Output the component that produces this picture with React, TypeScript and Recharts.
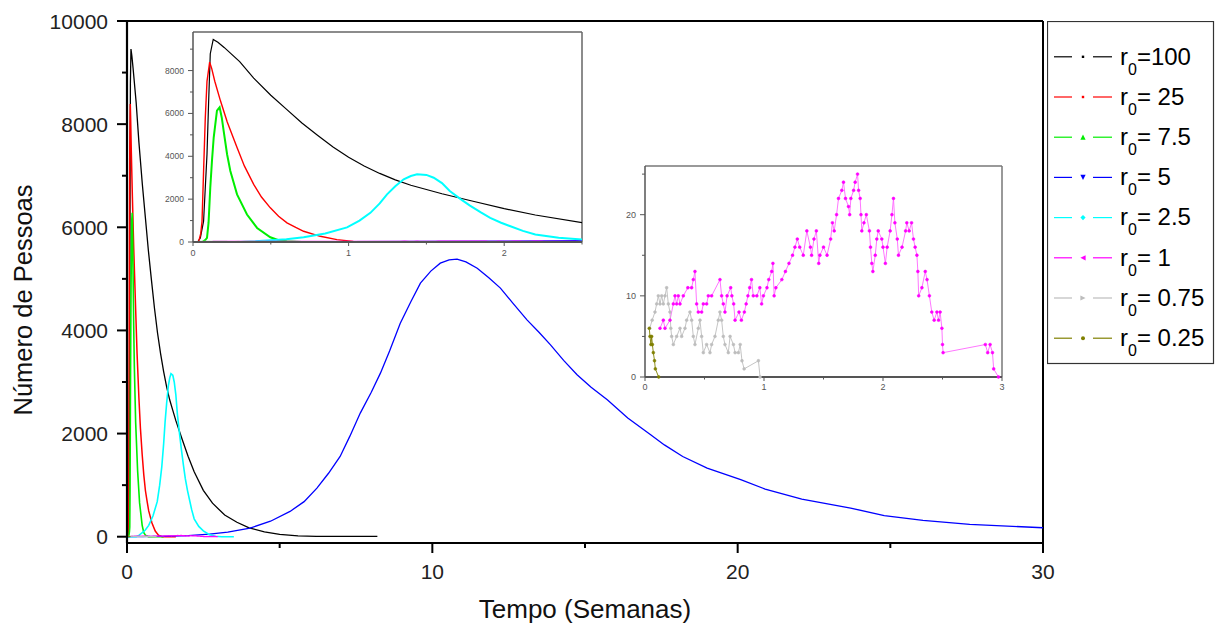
import React from 'react'
import { LineChart, Line, XAxis, YAxis, Legend, ReferenceLine } from 'recharts'

type Pt = [number, number]

// [tempo (semanas), número de pessoas]
const r100: Pt[] = [
  [0, 0], [0.03, 0], [0.047, 190], [0.068, 970], [0.09, 4100], [0.1, 6440], [0.111, 8785], [0.13, 9455],
  [0.16, 9320], [0.2, 9080], [0.3, 8420], [0.39, 7650], [0.5, 6850], [0.6, 6200], [0.7, 5550],
  [0.8, 4980], [0.9, 4430], [1.0, 3950], [1.1, 3550], [1.2, 3200], [1.3, 2900], [1.4, 2650],
  [1.5, 2450], [1.6, 2250], [1.8, 1900], [2.0, 1560], [2.2, 1260], [2.5, 900], [2.8, 650],
  [3.2, 420], [3.6, 280], [4.0, 170], [4.5, 95], [5.0, 45], [5.6, 15], [6.2, 5], [8.2, 5],
]
const r25: Pt[] = [
  [0, 0], [0.036, 0], [0.05, 400], [0.058, 970], [0.068, 3300], [0.079, 5800], [0.09, 7500],
  [0.107, 8390], [0.12, 8100], [0.14, 7500], [0.176, 6600], [0.22, 5600], [0.283, 4410],
  [0.33, 3550], [0.39, 2690], [0.44, 2100], [0.497, 1594], [0.55, 1200], [0.604, 891], [0.66, 680],
  [0.711, 500], [0.818, 266], [0.925, 110], [1.03, 30], [1.15, 0], [1.6, 0],
]
const r7_5: Pt[] = [
  [0, 0], [0.06, 0], [0.08, 100], [0.09, 188], [0.1, 900], [0.111, 2530], [0.122, 3800],
  [0.133, 4875], [0.154, 6127], [0.171, 6282], [0.185, 5800], [0.197, 5190], [0.219, 4096],
  [0.24, 3314], [0.283, 2222], [0.347, 1284], [0.412, 656], [0.497, 220], [0.55, 80], [0.604, 30],
  [0.7, 0], [1.2, 0],
]
const r5: Pt[] = [
  [0, 0], [0.5, 0], [1, 5], [1.5, 10], [2, 20], [2.7, 50], [3.3, 90], [4.03, 168], [4.7, 300],
  [5.34, 490], [5.8, 680], [6.22, 943], [6.6, 1230], [6.98, 1556], [7.3, 1950], [7.64, 2397],
  [8.0, 2800], [8.3, 3172], [8.6, 3600], [8.95, 4141], [9.3, 4560], [9.61, 4917], [9.95, 5150],
  [10.26, 5304], [10.55, 5370], [10.81, 5382], [11.1, 5330], [11.47, 5207], [11.85, 5020],
  [12.23, 4820], [12.65, 4520], [13.1, 4205], [13.5, 3960], [13.87, 3721], [14.3, 3420],
  [14.74, 3140], [15.2, 2900], [15.73, 2655], [16.4, 2300], [17.15, 1977], [17.6, 1780],
  [18.2, 1556], [19.0, 1330], [20.1, 1105], [20.9, 924], [22.1, 730], [23.7, 556], [24.8, 407],
  [26.07, 316], [27.6, 238], [30, 174],
]
const r2_5: Pt[] = [
  [0, 0], [0.3, 0], [0.4, 30], [0.5, 80], [0.6, 130], [0.711, 220], [0.85, 400], [0.99, 680],
  [1.07, 1000], [1.14, 1360], [1.2, 1800], [1.247, 2222], [1.3, 2600], [1.354, 2925], [1.4, 3080],
  [1.44, 3160], [1.5, 3130], [1.547, 3000], [1.6, 2750], [1.65, 2377], [1.72, 2000], [1.78, 1700],
  [1.85, 1380], [1.91, 1125], [1.98, 900], [2.04, 736], [2.12, 520], [2.2, 347], [2.35, 200],
  [2.5, 112], [2.7, 40], [2.9, 10], [3.1, 0], [3.5, 0],
]
const r1: Pt[] = [
  [0.126, 6], [0.154, 7], [0.168, 6], [0.21, 7], [0.238, 9], [0.252, 10], [0.266, 9], [0.28, 10],
  [0.294, 9], [0.322, 10], [0.36, 11], [0.392, 11], [0.406, 12], [0.42, 13], [0.434, 9], [0.448, 8],
  [0.476, 8], [0.49, 9], [0.518, 9], [0.532, 10], [0.56, 10], [0.63, 12], [0.644, 10], [0.658, 9],
  [0.672, 8], [0.69, 10], [0.72, 11], [0.73, 10], [0.745, 9], [0.757, 7], [0.79, 8], [0.81, 7],
  [0.835, 8], [0.85, 9], [0.865, 10], [0.88, 11], [0.895, 12], [0.91, 10], [0.94, 10], [0.965, 11],
  [0.98, 9], [0.995, 10], [1.025, 11], [1.04, 12], [1.065, 13], [1.075, 14], [1.085, 10], [1.1, 11],
  [1.15, 12], [1.18, 13], [1.21, 14], [1.24, 15], [1.26, 16], [1.28, 17], [1.3, 16], [1.33, 15],
  [1.36, 18], [1.39, 16], [1.4, 15], [1.42, 17], [1.44, 18], [1.46, 14], [1.47, 15], [1.5, 16],
  [1.53, 15], [1.56, 17], [1.575, 19], [1.59, 18], [1.61, 20], [1.626, 22], [1.654, 23], [1.668, 24],
  [1.685, 22], [1.71, 21], [1.72, 20], [1.73, 22], [1.753, 23], [1.766, 24], [1.786, 25], [1.795, 23],
  [1.808, 22], [1.815, 20], [1.822, 18], [1.84, 19], [1.86, 20], [1.886, 18], [1.895, 16], [1.906, 14],
  [1.915, 13], [1.935, 15], [1.948, 17], [1.96, 18], [1.99, 17], [2.0, 16], [2.02, 14], [2.035, 16],
  [2.06, 18], [2.075, 20], [2.088, 22], [2.1, 19], [2.12, 17], [2.13, 15], [2.16, 16], [2.19, 18],
  [2.2, 19], [2.22, 18], [2.24, 19], [2.256, 17], [2.27, 16], [2.285, 15], [2.293, 13], [2.3, 10],
  [2.327, 11], [2.355, 13], [2.37, 12], [2.39, 10], [2.41, 8], [2.43, 7], [2.453, 8], [2.467, 7],
  [2.48, 8], [2.495, 6], [2.5, 4], [2.505, 3], [2.86, 4], [2.88, 3], [2.9, 4], [2.92, 3], [2.93, 1],
  [2.97, 0],
]
const r0_75: Pt[] = [
  [0.04, 6], [0.06, 7], [0.084, 8], [0.098, 9], [0.112, 10], [0.126, 9], [0.14, 10], [0.154, 9],
  [0.168, 10], [0.182, 11], [0.196, 9], [0.21, 8], [0.217, 6], [0.224, 5], [0.238, 4], [0.266, 5],
  [0.294, 6], [0.308, 5], [0.336, 6], [0.35, 7], [0.378, 8], [0.392, 7], [0.406, 5], [0.42, 4],
  [0.448, 6], [0.462, 7], [0.476, 5], [0.49, 3], [0.518, 4], [0.546, 3], [0.56, 4], [0.588, 5],
  [0.616, 7], [0.63, 8], [0.644, 7], [0.658, 5], [0.672, 4], [0.7, 3], [0.715, 5], [0.743, 4],
  [0.757, 3], [0.785, 3], [0.8, 4], [0.815, 2], [0.833, 1], [0.953, 2], [0.967, 0],
]
const r0_25: Pt[] = [
  [0.036, 6], [0.042, 5], [0.05, 4], [0.056, 5], [0.062, 4], [0.07, 3], [0.08, 2], [0.087, 1], [0.115, 0],
]

const mainXTicks = [0, 5, 10, 15, 20, 25, 30]
const mainXLabels = [0, 10, 20, 30]
const mainYTicks = [0, 1000, 2000, 3000, 4000, 5000, 6000, 7000, 8000, 9000, 10000]
const mainYLabels = [0, 2000, 4000, 6000, 8000, 10000]
const in1XTicks = [0, 0.5, 1, 1.5, 2, 2.5]
const in1XLabels = [0, 1, 2]
const in1YTicks = [0, 1000, 2000, 3000, 4000, 5000, 6000, 7000, 8000, 9000]
const in1YLabels = [0, 2000, 4000, 6000, 8000]
const in2XTicks = [0, 0.5, 1, 1.5, 2, 2.5, 3]
const in2XLabels = [0, 1, 2, 3]
const in2YTicks = [0, 5, 10, 15, 20, 25]
const in2YLabels = [0, 10, 20]

const rows = (pts: Pt[]) => pts.map(([t, v]) => ({ t, v }))

const series = [
  { id: 'r100', label: '=100', color: '#000000', pts: r100, w: 1.3, mk: 'sq' },
  { id: 'r25', label: '= 25', color: '#ff0000', pts: r25, w: 1.5, mk: 'sq' },
  { id: 'r7_5', label: '= 7.5', color: '#00ee00', pts: r7_5, w: 1.6, mk: 'up' },
  { id: 'r5', label: '= 5', color: '#0000ff', pts: r5, w: 1.3, mk: 'down' },
  { id: 'r2_5', label: '= 2.5', color: '#00ffff', pts: r2_5, w: 1.6, mk: 'dia' },
  { id: 'r1', label: '= 1', color: '#ff00ff', pts: r1, w: 1.3, mk: 'left' },
  { id: 'r0_75', label: '= 0.75', color: '#bdbdbd', pts: r0_75, w: 1.2, mk: 'right' },
  { id: 'r0_25', label: '= 0.25', color: '#808000', pts: r0_25, w: 1.2, mk: 'dot' },
]

const FONT = '"Liberation Sans", Arial, sans-serif'

type TickCfg = {
  labels: number[]
  major: number
  minor: number
  gap: number
  size: number
  fill: string
  stroke: string
  sw: number
}

const xTick = (c: TickCfg) => (p: any) => {
  const v = p.payload.value
  const isMajor = c.labels.includes(v)
  return (
    <g>
      <line x1={p.x} x2={p.x} y1={p.y} y2={p.y + (isMajor ? c.major : c.minor)} stroke={c.stroke} strokeWidth={c.sw} />
      {isMajor && (
        <text x={p.x} y={p.y + c.gap} textAnchor="middle" fontSize={c.size} fill={c.fill} fontFamily={FONT}>
          {v}
        </text>
      )}
    </g>
  )
}

const yTick = (c: TickCfg) => (p: any) => {
  const v = p.payload.value
  const isMajor = c.labels.includes(v)
  return (
    <g>
      <line x1={p.x} x2={p.x - (isMajor ? c.major : c.minor)} y1={p.y} y2={p.y} stroke={c.stroke} strokeWidth={c.sw} />
      {isMajor && (
        <text x={p.x - c.gap} y={p.y} dy="0.36em" textAnchor="end" fontSize={c.size} fill={c.fill} fontFamily={FONT}>
          {v}
        </text>
      )}
    </g>
  )
}

const Marker = ({ kind, x, y, color }: { kind: string; x: number; y: number; color: string }) => {
  const s = 2.6
  if (kind === 'up') return <polygon points={`${x},${y - s} ${x - s},${y + s} ${x + s},${y + s}`} fill={color} />
  if (kind === 'down') return <polygon points={`${x},${y + s} ${x - s},${y - s} ${x + s},${y - s}`} fill={color} />
  if (kind === 'left') return <polygon points={`${x - s},${y} ${x + s},${y - s} ${x + s},${y + s}`} fill={color} />
  if (kind === 'right') return <polygon points={`${x + s},${y} ${x - s},${y - s} ${x - s},${y + s}`} fill={color} />
  if (kind === 'dia') return <polygon points={`${x},${y - s} ${x + s},${y} ${x},${y + s} ${x - s},${y}`} fill={color} />
  if (kind === 'dot') return <circle cx={x} cy={y} r={2} fill={color} />
  return <rect x={x - 1.2} y={y - 1.2} width={2.4} height={2.4} fill={color} />
}

const LegendBox = () => (
  <svg width={168} height={344} style={{ display: 'block' }}>
    <rect x={0.5} y={0.5} width={166} height={342} fill="#fff" stroke="#333" strokeWidth={1.2} />
    {series.map((s, i) => {
      const cy = 34.5 + i * 40.2
      return (
        <g key={s.id}>
          <line x1={7} x2={25} y1={cy + 1.3} y2={cy + 1.3} stroke={s.color} strokeWidth={1.2} />
          <Marker kind={s.mk} x={36} y={cy + 1.3} color={s.color} />
          <line x1={46} x2={65} y1={cy + 1.3} y2={cy + 1.3} stroke={s.color} strokeWidth={1.2} />
          <text x={73} y={cy + 9} fontSize={24} fill="#000" fontFamily={FONT} style={{ whiteSpace: 'pre' }}>
            r<tspan fontSize={16} dy={10}>0</tspan>
            <tspan dy={-10}>{s.label}</tspan>
          </text>
        </g>
      )
    })}
  </svg>
)

const YTitle = () => (
  <text x={32} y={300} transform="rotate(-90 32 300)" textAnchor="middle" fontSize={25.5} fill="#111" fontFamily={FONT}>
    Número de Pessoas
  </text>
)

const XTitle = () => (
  <text x={585} y={618} textAnchor="middle" fontSize={26} fill="#111" fontFamily={FONT}>
    Tempo (Semanas)
  </text>
)

const mainX: TickCfg = { labels: mainXLabels, major: 10, minor: 5, gap: 35.5, size: 21, fill: '#222', stroke: '#000', sw: 2 }
const mainY: TickCfg = { labels: mainYLabels, major: 10, minor: 5, gap: 19, size: 21, fill: '#222', stroke: '#000', sw: 2 }
const in1X: TickCfg = { labels: in1XLabels, major: 4, minor: 2.5, gap: 14, size: 9, fill: '#555', stroke: '#555', sw: 1 }
const in1Y: TickCfg = { labels: in1YLabels, major: 5, minor: 3, gap: 9, size: 8.5, fill: '#555', stroke: '#555', sw: 1 }
const in2X: TickCfg = { labels: in2XLabels, major: 4, minor: 2.5, gap: 13, size: 9, fill: '#555', stroke: '#555', sw: 1 }
const in2Y: TickCfg = { labels: in2YLabels, major: 5, minor: 3, gap: 9, size: 9, fill: '#555', stroke: '#555', sw: 1 }

export default function App() {
  const smallSeries = series.filter((s) => ['r1', 'r0_75', 'r0_25'].includes(s.id))
  return (
    <div style={{ position: 'absolute', left: 0, top: 0, width: 1215, height: 628, background: '#fff', fontFamily: FONT }}>
      <LineChart width={1215} height={628} margin={{ top: 21, right: 172, bottom: 55, left: 60 }}>
        <XAxis
          type="number"
          dataKey="t"
          domain={[0, 30]}
          ticks={mainXTicks}
          interval={0}
          height={30}
          tickSize={0}
          tickMargin={0}
          tickLine={false}
          axisLine={{ stroke: '#000', strokeWidth: 2.2 }}
          tick={xTick(mainX)}
          label={<XTitle />}
        />
        <YAxis
          type="number"
          dataKey="v"
          domain={[-122, 10000]}
          ticks={mainYTicks}
          interval={0}
          width={67}
          tickSize={0}
          tickMargin={0}
          tickLine={false}
          axisLine={{ stroke: '#000', strokeWidth: 2.2 }}
          tick={yTick(mainY)}
          label={<YTitle />}
        />
        <ReferenceLine y={10000} stroke="#000" strokeWidth={2} />
        <ReferenceLine x={30} stroke="#000" strokeWidth={2} />
        {series.map((s) => (
          <Line
            key={s.id}
            data={rows(s.pts)}
            dataKey="v"
            type="linear"
            stroke={s.color}
            strokeWidth={s.w}
            dot={false}
            isAnimationActive={false}
          />
        ))}
        <Legend
          layout="vertical"
          align="center"
          verticalAlign="middle"
          wrapperStyle={{ left: 1047, top: 21, width: 168, height: 344 }}
          content={() => <LegendBox />}
        />
      </LineChart>

      <div style={{ position: 'absolute', left: 150, top: 20 }}>
        <LineChart width={440} height={245} margin={{ top: 12, right: 8, bottom: 3, left: 0 }}>
          <XAxis
            type="number"
            dataKey="t"
            domain={[0, 2.5]}
            allowDataOverflow
            ticks={in1XTicks}
            interval={0}
            height={20}
            tickSize={0}
            tickMargin={0}
            tickLine={false}
            axisLine={{ stroke: '#555', strokeWidth: 2 }}
            tick={xTick(in1X)}
          />
          <YAxis
            type="number"
            dataKey="v"
            domain={[0, 9800]}
            allowDataOverflow
            ticks={in1YTicks}
            interval={0}
            width={43}
            tickSize={0}
            tickMargin={0}
            tickLine={false}
            axisLine={{ stroke: '#555', strokeWidth: 1.5 }}
            tick={yTick(in1Y)}
          />
          <ReferenceLine y={9800} stroke="#666" strokeWidth={1.5} />
          <ReferenceLine x={2.5} stroke="#666" strokeWidth={1.5} />
          {series.map((s) => (
            <Line
              key={s.id}
              data={rows(s.pts)}
              dataKey="v"
              type="linear"
              stroke={s.color}
              strokeWidth={s.id === 'r100' ? 1.2 : s.id === 'r25' ? 1.4 : 2}
              dot={false}
              isAnimationActive={false}
            />
          ))}
        </LineChart>
      </div>

      <div style={{ position: 'absolute', left: 600, top: 160 }}>
        <LineChart width={410} height={240} margin={{ top: 6, right: 8, bottom: 3, left: 0 }}>
          <XAxis
            type="number"
            dataKey="t"
            domain={[0, 3]}
            ticks={in2XTicks}
            interval={0}
            height={20}
            tickSize={0}
            tickMargin={0}
            tickLine={false}
            axisLine={{ stroke: '#555', strokeWidth: 2 }}
            tick={xTick(in2X)}
          />
          <YAxis
            type="number"
            dataKey="v"
            domain={[0, 26]}
            ticks={in2YTicks}
            interval={0}
            width={45}
            tickSize={0}
            tickMargin={0}
            tickLine={false}
            axisLine={{ stroke: '#555', strokeWidth: 1.5 }}
            tick={yTick(in2Y)}
          />
          <ReferenceLine y={26} stroke="#777" strokeWidth={1.5} />
          <ReferenceLine x={3} stroke="#777" strokeWidth={1.5} />
          {smallSeries.map((s) => (
            <Line
              key={s.id}
              data={rows(s.pts)}
              dataKey="v"
              type="linear"
              stroke={s.id === 'r1' ? '#ff66ff' : s.color}
              strokeWidth={0.9}
              dot={{ r: 1.4, fill: s.color, stroke: s.color, strokeWidth: 0.6 }}
              isAnimationActive={false}
            />
          ))}
        </LineChart>
      </div>
    </div>
  )
}
